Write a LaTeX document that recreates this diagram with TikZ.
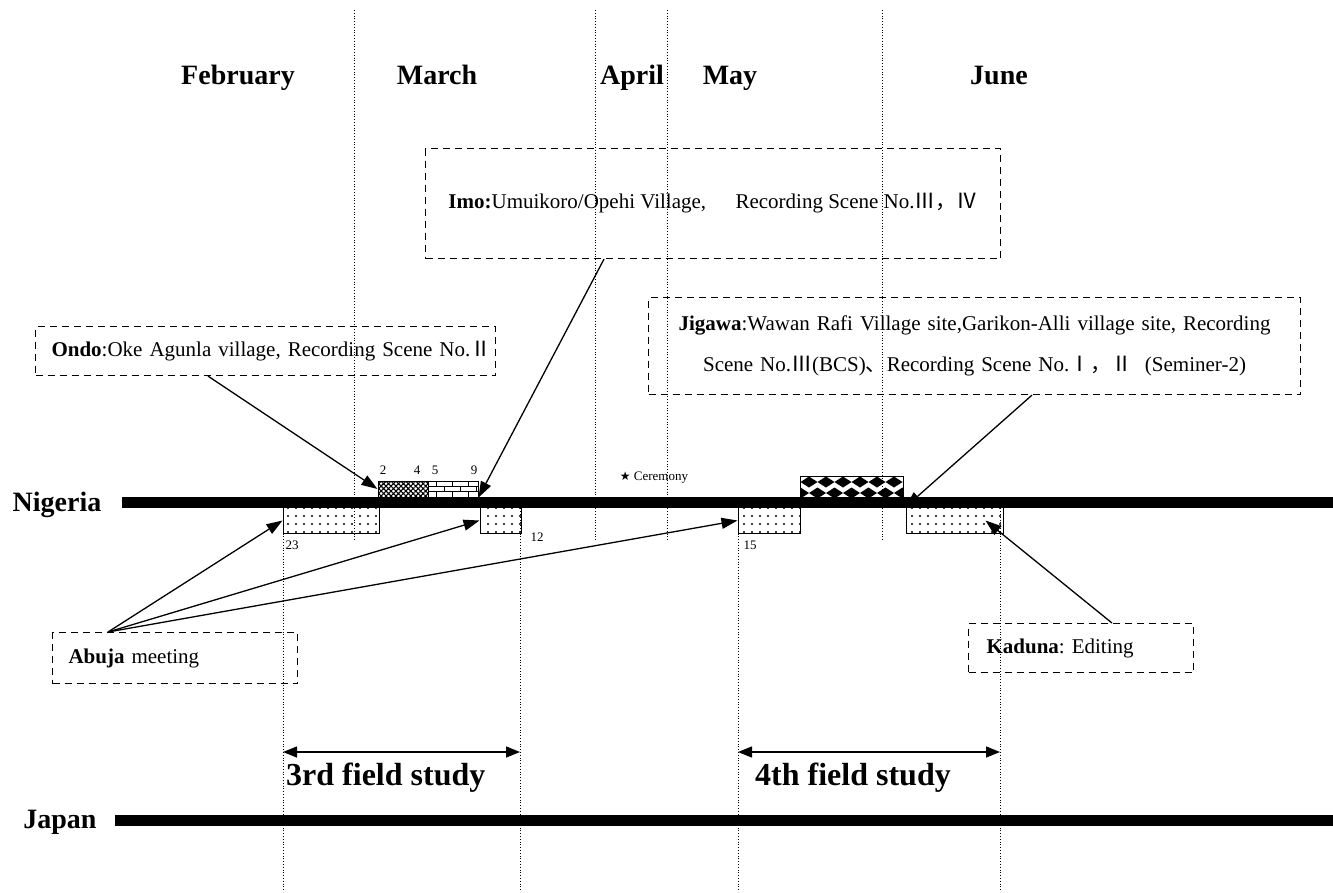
\documentclass[tikz,border=0pt]{standalone}
\usepackage{fontspec}
\setmainfont{Liberation Serif}
\newfontfamily\cjk{Noto Sans CJK JP}
\newfontfamily\symb{DejaVu Sans}
\usetikzlibrary{arrows.meta,patterns,patterns.meta}
\frenchspacing

\begin{document}
\begin{tikzpicture}[x=1pt,y=-1pt,
   month/.style={font=\bfseries\fontsize{28}{30}\selectfont,anchor=base},
   country/.style={font=\bfseries\fontsize{28}{30}\selectfont},
   span/.style={line width=1.4pt,{Triangle[length=14pt,width=11pt]}-{Triangle[length=14pt,width=11pt]}},
   spanlabel/.style={font=\bfseries\fontsize{32}{34}\selectfont,anchor=west,inner sep=0},
   guide/.style={dotted,line width=0.8pt},
   bar/.style={line width=11pt},
   callout/.style={draw,line width=1.1pt,dash pattern=on 7pt off 5pt,anchor=north west,
      inner ysep=0,align=left,font=\fontsize{21}{25}\selectfont},
   period/.style={draw,line width=1pt,inner sep=0,minimum height=26pt},
   stay/.style={period,pattern={Dots[distance=8pt,radius=1.1pt]}},
   day/.style={font=\fontsize{13}{15}\selectfont,inner sep=0},
   pointer/.style={line width=1.3pt,-{Triangle[length=16pt,width=11pt]}}]
   \useasboundingbox (0,0) rectangle (1333,892);

   \node[month] (feb) at (238,84) {February};
   \node[month] (mar) at (437,84) {March};
   \node[month] (apr) at (632,84) {April};
   \node[month] (may) at (730,84) {May};
   \node[month] (jun) at (999,84) {June};

   \foreach \x in {354,595,667,882}
      \draw[guide] (\x,10) -- (\x,540);
   \foreach \x in {283,520,738,1000}
      \draw[guide] (\x,500) -- (\x,892);

   \node[country] (nigeria) at (57,505) {Nigeria};
   \node[country] (japan) at (60,822) {Japan};
   \draw[bar] (122,502.5) -- (1333,502.5);
   \draw[bar] (115,820) -- (1333,820);

   \node[period,minimum width=50pt,minimum height=16pt,
      pattern={Hatch[angle=45,distance=3.5pt,line width=1.1pt]}] (hatch) at (403,489) {};
   \node[period,minimum width=50pt,minimum height=16pt,fill=white] (brick) at (453,489) {};
   \draw[line width=1pt] (428,486.3) -- (478,486.3) (428,491.7) -- (478,491.7);
   \foreach \x in {436,452,468}
      \draw[line width=1pt] (\x,481) -- (\x,486.3) (\x,491.7) -- (\x,497);
   \foreach \x in {444,460,476}
      \draw[line width=1pt] (\x,486.3) -- (\x,491.7);
   \begin{scope}
      \clip (800,476) rectangle (903,497);
      \foreach \i in {0,...,6} {
         \fill (809+17*\i,482) +(-8.5,0) -- +(0,-5.5) -- +(8.5,0) -- +(0,5.5) -- cycle;
         \fill (800.5+17*\i,493) +(-8.5,0) -- +(0,-5.5) -- +(8.5,0) -- +(0,5.5) -- cycle;
         \fill (800.5+17*\i,471) +(-8.5,0) -- +(0,-5.5) -- +(8.5,0) -- +(0,5.5) -- cycle;
      }
   \end{scope}
   \node[period,minimum width=103pt,minimum height=21pt] (rhomb) at (851.5,486.5) {};

   \node[stay,minimum width=96pt] (p23) at (331,520.5) {};
   \node[stay,minimum width=41pt] (p12) at (500.5,520.5) {};
   \node[stay,minimum width=62pt] (p15) at (769,520.5) {};
   \node[stay,minimum width=97pt] (pjun) at (954.5,520.5) {};

   \node[day] (d2) at (383,470) {2};
   \node[day] (d4) at (417,470) {4};
   \node[day] (d5) at (435,470) {5};
   \node[day] (d9) at (474,470) {9};
   \node[day] (d23) at (292,545) {23};
   \node[day] (d12) at (537,537) {12};
   \node[day] (d15) at (750,545) {15};
   \node[day] (cer) at (654,478) {{\symb\fontsize{12}{14}\selectfont ★} Ceremony};

   \node[callout,minimum width=575pt,minimum height=110pt] (imo) at (425,148)
      {\textbf{Imo:}Umuikoro/Opehi Village,\hspace{1.4em}Recording Scene No.{\cjk Ⅲ，Ⅳ}};
   \node[callout,text width=428pt,inner xsep=16pt,minimum height=49pt] (ondo) at (35,326)
      {\makebox[428pt][s]{\textbf{Ondo}:Oke Agunla village, Recording Scene No.{\cjk Ⅱ}}};
   \node[callout,text width=612pt,inner xsep=20pt,minimum height=97pt,align=center,
      font=\fontsize{21}{41}\selectfont] (jigawa) at (648,297)
      {\textbf{Jigawa}:Wawan Rafi Village site,Garikon-Alli village site, Recording\\
       Scene No.{\cjk Ⅲ}(BCS){\cjk 、}Recording Scene No.{\cjk Ⅰ，Ⅱ}\hspace{0.6em}(Seminer-2)};
   \node[callout,text width=213pt,inner xsep=16pt,minimum height=51pt] (abuja) at (52,632)
      {\textbf{Abuja} meeting};
   \node[callout,text width=189pt,inner xsep=18pt,minimum height=49pt] (kaduna) at (968,623)
      {\textbf{Kaduna}: Editing};

   \draw[pointer] ([xshift=173pt]ondo.south west) -- (hatch.west);
   \draw[pointer] ([xshift=179pt]imo.south west) -- (brick.south east);
   \draw[pointer] ([xshift=384pt]jigawa.south west) -- (pjun.north west);
   \draw[pointer] ([xshift=144pt]kaduna.north west) -- ([xshift=-18pt]pjun.east);
   \draw[pointer] ([xshift=56pt]abuja.north west) -- (p23.west);
   \draw[pointer] ([xshift=56pt]abuja.north west) -- (p12.west);
   \draw[pointer] ([xshift=56pt]abuja.north west) -- (p15.west);

   \coordinate (s3) at (283,752);
   \coordinate (e3) at (520,752);
   \coordinate (s4) at (738,752);
   \coordinate (e4) at (1000,752);
   \draw[span] (s3) -- (e3);
   \draw[span] (s4) -- (e4);
   \node[spanlabel] (f3) at (286,778) {3rd field study};
   \node[spanlabel] (f4) at (755,778) {4th field study};
\end{tikzpicture}
\end{document}
